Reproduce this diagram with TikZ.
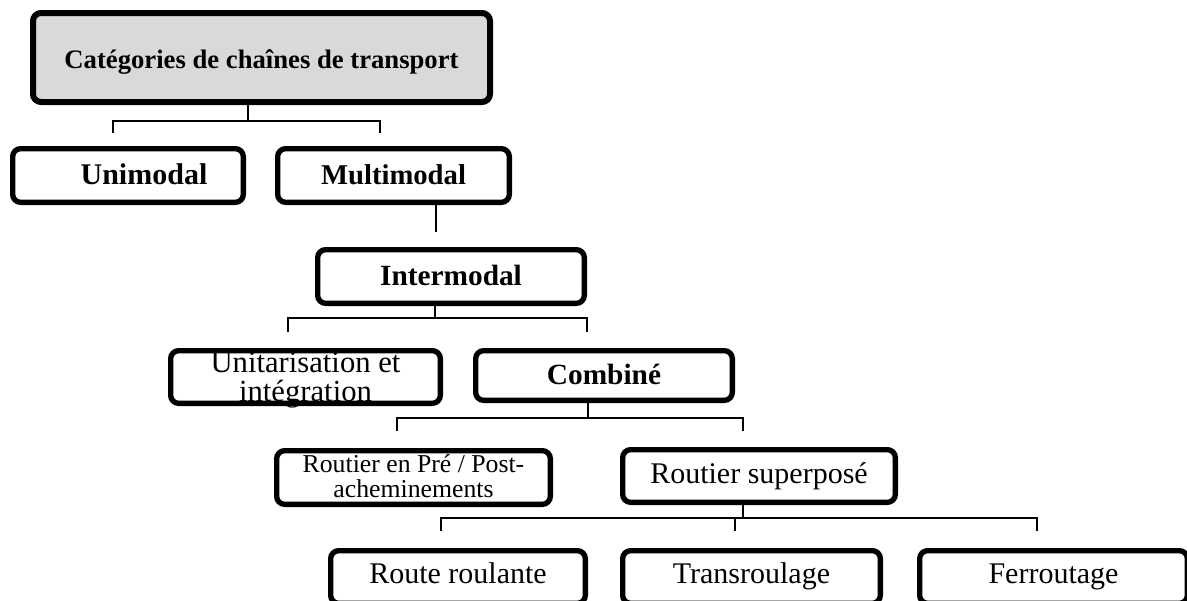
\documentclass[tikz,border=0pt]{standalone}
\usepackage{fontspec}
\setmainfont{Liberation Serif}
\definecolor{titlegray}{RGB}{217,217,217}

\tikzset{every picture/.style={line width=0.75pt}}
\tikzset{catbox/.style={draw=black,line width=4pt,rounded corners=6pt,inner sep=0.75pt,fill=white},
         uneligne/.style={text height=17pt,text depth=3pt},
         basligne/.style={text height=16pt,text depth=7pt},
         lien/.style={draw=black,line width=1.5pt}}

\begin{document}
\begin{tikzpicture}[x=0.75pt,y=0.75pt,yscale=-1,xscale=1]
        \useasboundingbox (0,0) rectangle (1187,600);
        %Rounded Rect [id:dp1] 
        \draw (261.5,57.5) node [catbox,text height=18pt,text depth=2pt,line width=4.5pt,fill=titlegray,minimum width=342.75pt,minimum height=66.75pt,font={\fontsize{20}{24}\selectfont\bfseries}] (titre) {Catégories de chaînes de transport};
        %Rounded Rect [id:dp2] 
        \draw (128,175.5) node [catbox,uneligne,minimum width=173pt,minimum height=40.25pt,font={\fontsize{22.5}{26}\selectfont\bfseries}] (uni) {\hspace*{24pt}Unimodal};
        %Rounded Rect [id:dp3] 
        \draw (393.5,175.5) node [catbox,uneligne,minimum width=173.75pt,minimum height=40.25pt,font={\fontsize{21.5}{26}\selectfont\bfseries}] (multi) {Multimodal};
        %Rounded Rect [id:dp4] 
        \draw (451,276.5) node [catbox,uneligne,minimum width=200pt,minimum height=40.25pt,font={\fontsize{22}{26}\selectfont\bfseries}] (inter) {Intermodal};
        %Rounded Rect [id:dp5] 
        \draw (305.5,377) node [catbox,align=center,text height=36.5pt,text depth=0.5pt,minimum width=202.25pt,minimum height=39.5pt,font={\fontsize{23}{21.75}\selectfont}] (unit) {Unitarisation et\\intégration};
        %Rounded Rect [id:dp6] 
        \draw (604,375.5) node [catbox,uneligne,minimum width=192.5pt,minimum height=37.25pt,font={\fontsize{22}{26}\selectfont\bfseries}] (comb) {Combiné};
        %Rounded Rect [id:dp7] 
        \draw (413.5,477.5) node [catbox,align=center,text height=34pt,text depth=4.75pt,minimum width=205.25pt,minimum height=40.25pt,font={\fontsize{19.3}{18.75}\selectfont}] (pre) {Routier en Pré / Post-\\acheminements};
        %Rounded Rect [id:dp8] 
        \draw (759,476) node [catbox,text height=16pt,text depth=5.5pt,minimum width=204.5pt,minimum height=39.5pt,font={\fontsize{22.5}{26}\selectfont}] (superp) {Routier superposé};
        %Rounded Rect [id:dp9] 
        \draw (458,577) node [catbox,basligne,minimum width=191pt,minimum height=39.5pt,font={\fontsize{22.5}{26}\selectfont}] (roul) {Route roulante};
        %Rounded Rect [id:dp10] 
        \draw (751.5,577) node [catbox,basligne,minimum width=193.25pt,minimum height=39.5pt,font={\fontsize{22.5}{26}\selectfont}] (trans) {Transroulage};
        %Rounded Rect [id:dp11] 
        \draw (1053.5,577) node [catbox,basligne,minimum width=200.75pt,minimum height=39.5pt,font={\fontsize{22.5}{26}\selectfont}] (ferr) {Ferroutage};

        % ends of the connectors
        \coordinate (jTitre) at (248,121);
        \coordinate (dUni) at (113,133);
        \coordinate (dMulti) at (380,133);
        \coordinate (mBout) at (436,232);
        \coordinate (jInter) at (435,318);
        \coordinate (dUnit) at (288,332);
        \coordinate (dComb) at (587,332);
        \coordinate (jComb) at (588,418);
        \coordinate (dPre) at (397,431);
        \coordinate (dSuperp) at (743,431);
        \coordinate (jSuperp) at (743,518);
        \coordinate (dRoul) at (441,531);
        \coordinate (dTrans) at (735,531);
        \coordinate (dFerr) at (1037,531);

        %Straight Lines [id:da1] 
        \draw [lien] (titre.south -| jTitre) -- (jTitre) ;
        \draw [lien] (dUni) -- ++(0,-12) -| (dMulti) ;
        %Straight Lines [id:da2] 
        \draw [lien,line width=1.9pt] (multi.south -| mBout) -- (mBout) ;
        %Straight Lines [id:da3] 
        \draw [lien] (inter.south -| jInter) -- (jInter) ;
        \draw [lien] (dUnit) -- ++(0,-14) -| (dComb) ;
        %Straight Lines [id:da4] 
        \draw [lien] (comb.south -| jComb) -- (jComb) ;
        \draw [lien] (dPre) -- ++(0,-13) -| (dSuperp) ;
        %Straight Lines [id:da5] 
        \draw [lien] (superp.south -| jSuperp) -- (jSuperp) ;
        \draw [lien] (dRoul) -- ++(0,-13) -| (dFerr) ;
        \draw [lien] (dTrans) -- ++(0,-13) ;
\end{tikzpicture}
\end{document}
